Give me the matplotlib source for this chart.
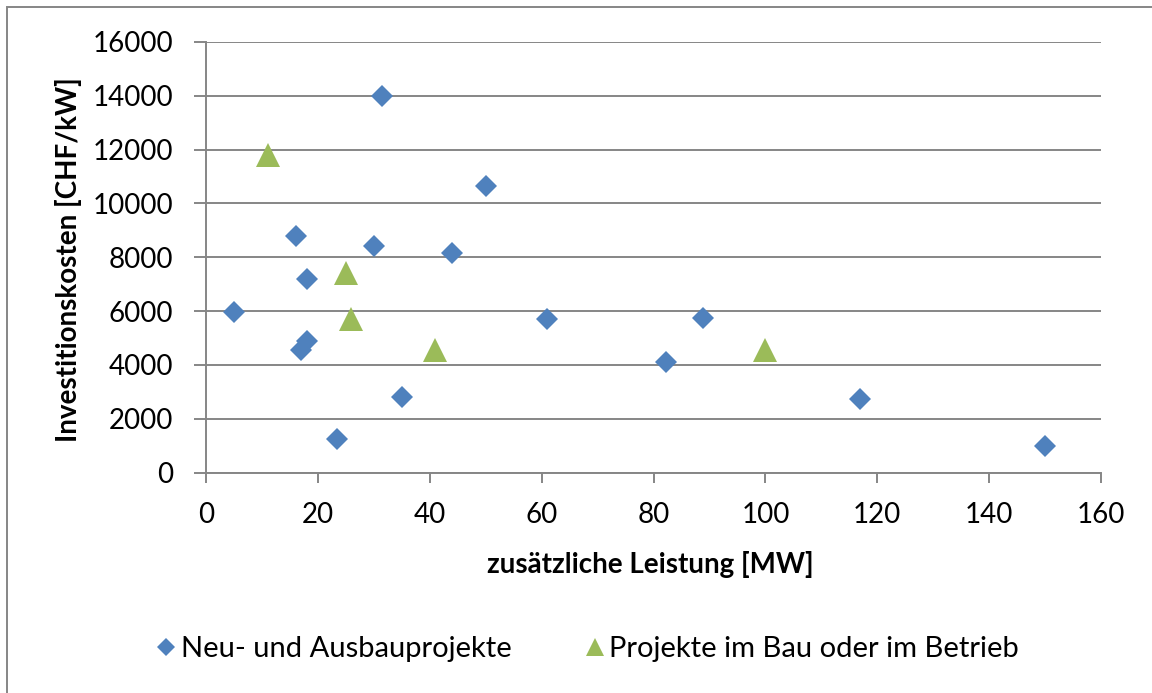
import numpy as np
import matplotlib.pyplot as plt
from matplotlib.patches import Rectangle

plt.rcParams['font.family'] = ['Lato', 'DejaVu Sans']

# Neu- und Ausbauprojekte
neu_mw = [5, 16, 18, 17, 18, 23.5, 31.4, 30, 35, 44, 50, 61, 82.2, 88.9, 117, 150]
neu_chf = [5950, 8800, 7200, 4550, 4900, 1250, 14000, 8400, 2800, 8150, 10650, 5700, 4100, 5750, 2750, 1000]

# Projekte im Bau oder im Betrieb
bau_mw = [11, 25, 26, 41, 100]
bau_chf = [11800, 7400, 5700, 4550, 4550]

xticks = [0, 20, 40, 60, 80, 100, 120, 140, 160]
yticks = [0, 2000, 4000, 6000, 8000, 10000, 12000, 14000, 16000]

blue = '#4F81BD'
green = '#9BBB59'
grey = '#868686'

fig = plt.figure(figsize=(11.52, 6.93), dpi=100)
ax = fig.add_axes([206/1152, 1-472.5/693, 895/1152, 430.5/693])

ax.plot(neu_mw, neu_chf, 'D', color=blue, markersize=11.5, markeredgewidth=0,
        label='Neu- und Ausbauprojekte', zorder=3)
ax.plot(bau_mw, bau_chf, '^', color=green, markersize=17, markeredgewidth=0,
        label='Projekte im Bau oder im Betrieb', zorder=3)

ax.set_xlim(0, 160)
ax.set_ylim(0, 16000)
ax.set_xticks(xticks)
ax.set_yticks(yticks)
ax.grid(axis='y', color=grey, linewidth=1.4)
ax.set_axisbelow(True)
for s in ['top', 'right']:
    ax.spines[s].set_visible(False)
for s in ['left', 'bottom']:
    ax.spines[s].set_color(grey)
    ax.spines[s].set_linewidth(1.4)
ax.tick_params(axis='y', length=8.5, width=1.4, color=grey, pad=15, labelsize=20)
ax.tick_params(axis='x', length=7.5, width=1.4, color=grey, pad=14, labelsize=20)

ax.set_xlabel('zusätzliche Leistung [MW]', fontsize=20, fontweight='bold', va='center')
ax.xaxis.set_label_coords(0.496, -0.2146)
ax.set_ylabel('Investitionskosten [CHF/kW]', fontsize=20, fontweight='bold', va='center')
ax.yaxis.set_label_coords(-0.154, 0.494)

fig.legend(loc='center', bbox_to_anchor=(586/1152, 1-649/693), ncol=2, frameon=False,
           fontsize=21, handletextpad=0.05, columnspacing=2.4, handlelength=0.9,
           markerscale=0.8)

# outer chart border (clipped on the right and bottom like the original)
fig.patches.append(Rectangle((6.5/1152, -0.1), 1.2, (1-7/693)+0.1, transform=fig.transFigure,
                             fill=False, edgecolor=grey, linewidth=1.4))

fig.savefig('out.png', dpi=100)
